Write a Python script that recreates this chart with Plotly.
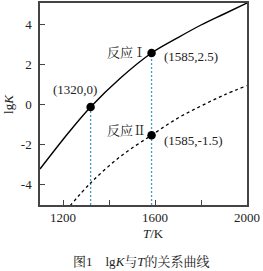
import plotly.graph_objects as go

# Data
T_I = [1100, 1230, 1320, 1450, 1585, 1700, 1800, 1900, 2000]
lgK_I = [-3.25, -1.35, -0.15, 1.3, 2.55, 3.32, 3.95, 4.5, 5.05]

T_II = [1230, 1320, 1450, 1585, 1700, 1800, 1900, 2000]
lgK_II = [-5.1, -3.95, -2.62, -1.56, -0.7, -0.1, 0.45, 0.92]

pts_T = [1320, 1585, 1585]
pts_lgK = [-0.15, 2.55, -1.56]

x_ticks = [1200, 1400, 1600, 1800, 2000]
x_ticktext = ["1200", "", "1600", "", "2000"]
y_ticks = [-4, -2, 0, 2, 4]
y_ticktext = ["-4", "-2", "0", "2", "4"]

SERIF = "Liberation Serif, Noto Serif CJK SC, Noto Sans CJK SC"
BLUE = "#3d9cc9"

fig = go.Figure()

# vertical guide lines
fig.add_trace(go.Scatter(x=[1320, 1320], y=[-5.05, -0.15], mode="lines",
                         line=dict(color=BLUE, width=1.3, dash="2px,2px"), hoverinfo="skip"))
fig.add_trace(go.Scatter(x=[1585, 1585], y=[-5.05, 2.55], mode="lines",
                         line=dict(color=BLUE, width=1.3, dash="2px,2px"), hoverinfo="skip"))

fig.add_trace(go.Scatter(x=T_I, y=lgK_I, mode="lines", line=dict(color="black", width=1.4, shape="spline")))
fig.add_trace(go.Scatter(x=T_II, y=lgK_II, mode="lines",
                         line=dict(color="black", width=1.3, shape="spline", dash="3px,3px")))
fig.add_trace(go.Scatter(x=pts_T, y=pts_lgK, mode="markers", marker=dict(color="black", size=8.5)))

ann = dict(showarrow=False, font=dict(family=SERIF, size=13, color="#222"))
fig.add_annotation(x=1252, y=0.72, text="(1320,0)", xanchor="center", yanchor="middle", **ann)
fig.add_annotation(x=1568, y=2.6, text="反应Ⅰ", xanchor="right", yanchor="middle", **ann)
fig.add_annotation(x=1630, y=2.4, text="(1585,2.5)", xanchor="left", yanchor="middle", **ann)
fig.add_annotation(x=1568, y=-1.32, text="反应Ⅱ", xanchor="right", yanchor="middle", **ann)
fig.add_annotation(x=1630, y=-1.8, text="(1585,-1.5)", xanchor="left", yanchor="middle", **ann)

# axis titles and caption
fig.add_annotation(xref="paper", yref="paper", x=-0.155, y=0.5, text="lg<i>K</i>", textangle=-90,
                   xanchor="center", yanchor="middle", **ann)
fig.add_annotation(xref="paper", yref="paper", x=0.55, y=-0.14, text="<i>T</i>/K",
                   xanchor="center", yanchor="middle", **ann)
fig.add_annotation(xref="paper", yref="paper", x=0.49, y=-0.28,
                   text="图1    lg<i>K</i>与<i>T</i>的关系曲线", xanchor="center", yanchor="middle", **ann)

axis_common = dict(showline=True, mirror=True, linecolor="#444", linewidth=1.5, ticks="inside",
                   ticklen=5, tickcolor="#444", tickwidth=1.2, showgrid=False, zeroline=False,
                   tickfont=dict(family=SERIF, size=13, color="#222"))

fig.update_xaxes(range=[1100, 2000], tickvals=x_ticks, ticktext=x_ticktext, **axis_common)
fig.update_yaxes(range=[-5.05, 5.05], tickvals=y_ticks, ticktext=y_ticktext, ticklabelstandoff=4,
                 **axis_common)

fig.update_layout(width=263, height=271, margin=dict(l=40, r=16, t=1, b=66),
                  plot_bgcolor="white", paper_bgcolor="white", showlegend=False)

fig.write_html("out.html")
